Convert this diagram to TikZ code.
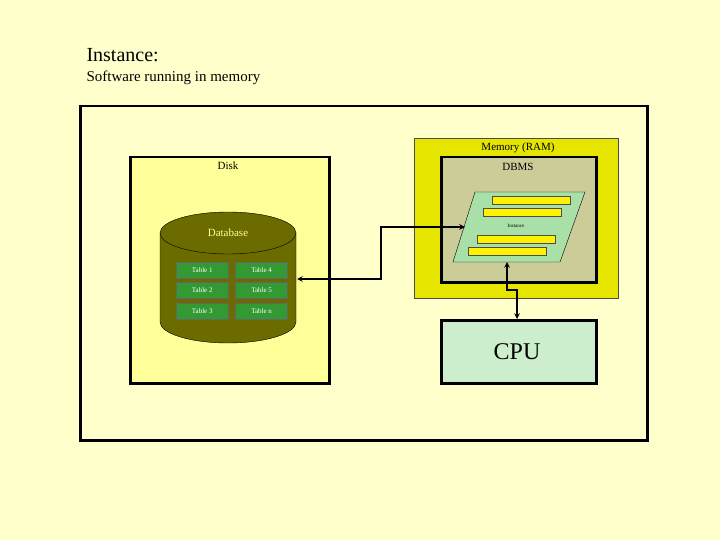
\documentclass[tikz,border=0pt]{standalone}
\usepackage{fontspec}
\setmainfont{Liberation Serif}
\usetikzlibrary{shapes.geometric,positioning}
\definecolor{pagebg}{HTML}{FFFFCC}
\definecolor{diskbg}{HTML}{FFFF99}
\definecolor{membg}{HTML}{E5E500}
\definecolor{dbmsbg}{HTML}{CCCC99}
\definecolor{olive}{HTML}{6B6B00}
\definecolor{tablegreen}{HTML}{339933}
\definecolor{instgreen}{HTML}{A8E0A8}
\definecolor{cpubg}{HTML}{CCEECC}
\begin{document}
\begin{tikzpicture}[x=1pt,y=-1pt]

          % Definitions
          \tikzstyle{box} = [rectangle, draw=black, line width=2.5pt, inner sep=0pt, anchor=north west]
          \tikzstyle{tbl} = [rectangle, fill=tablegreen, draw=black!60, minimum width=52pt, minimum height=16pt, inner sep=0pt, text=white, font=\fontsize{7}{7}\selectfont, anchor=north west]
          \tikzstyle{bar} = [rectangle, fill=yellow, draw=black!70, minimum width=78pt, minimum height=8pt, inner sep=0pt, anchor=north west]
          \tikzstyle{label} = [font=\fontsize{11}{11}\selectfont]
          \tikzstyle{arrow} = [line width=1.5pt,<->,>=stealth]

          \fill[pagebg] (0,0) rectangle (720,540);
          \node[anchor=west, font=\fontsize{20}{20}\selectfont] (title) at (83,55) {Instance:};
          \node[anchor=west, font=\fontsize{15}{15}\selectfont] (sub) at (83,78) {Software running in memory};

          \node (outer) [box, minimum width=567pt, minimum height=334pt] at (79,105) {};
          \node (disk) [box, fill=diskbg, minimum width=199pt, minimum height=226pt] at (129,156) {};
          \node[label] at (228,166) {Disk};

          % cylinder
          \fill[olive, draw=black] (160,233) -- (160,322) arc[start angle=180, end angle=0, x radius=68, y radius=21] -- (296,233) arc[start angle=0, end angle=-180, x radius=68, y radius=21];
          \draw[black] (160,233) arc[start angle=180, end angle=0, x radius=68, y radius=21];
          \node[label, text=diskbg] (db) at (228,233) {Database};

          \node (t1) [tbl] at (176,262) {Table 1};
          \node (t4) [tbl, right=7pt of t1] {Table 4};
          \node (t2) [tbl, below=4pt of t1] {Table 2};
          \node (t5) [tbl, right=7pt of t2] {Table 5};
          \node (t3) [tbl, below=4pt of t2] {Table 3};
          \node (tn) [tbl, right=7pt of t3] {Table n};

          \node (mem) [rectangle, draw=black!70, fill=membg, minimum width=204pt, minimum height=160pt, anchor=north west] at (414,138) {};
          \node[label] at (518,148) {Memory (RAM)};
          \node (dbms) [box, fill=dbmsbg, minimum width=155pt, minimum height=125pt] at (440,156) {};
          \node[label] at (518,167) {DBMS};

          % instance
          \fill[instgreen, draw=black] (475,192) -- (585,192) -- (560,262) -- (453,262) -- cycle;
          \node (b1) [bar] at (492,196) {};
          \node (b2) [bar] at (483,208) {};
          \node (b3) [bar] at (477,235) {};
          \node (b4) [bar] at (468,247) {};
          \node[font=\fontsize{5}{5}\selectfont] (inst) at (516,226) {Instance};
          \coordinate (instL) at (465,227);
          \coordinate (instB) at (507,262);
          \coordinate (dbR) at (297,279);

          \node (cpu) [box, fill=cpubg, minimum width=155pt, minimum height=63pt] at (440,319) {};
          \node[font=\fontsize{24}{24}\selectfont] at (517,352) {CPU};

          \draw [arrow] (dbR) -| (381,227) -- (instL);
          \draw [arrow] (instB) -- (507,290) -| (cpu.north -| 517,0);

\end{tikzpicture}
\end{document}
